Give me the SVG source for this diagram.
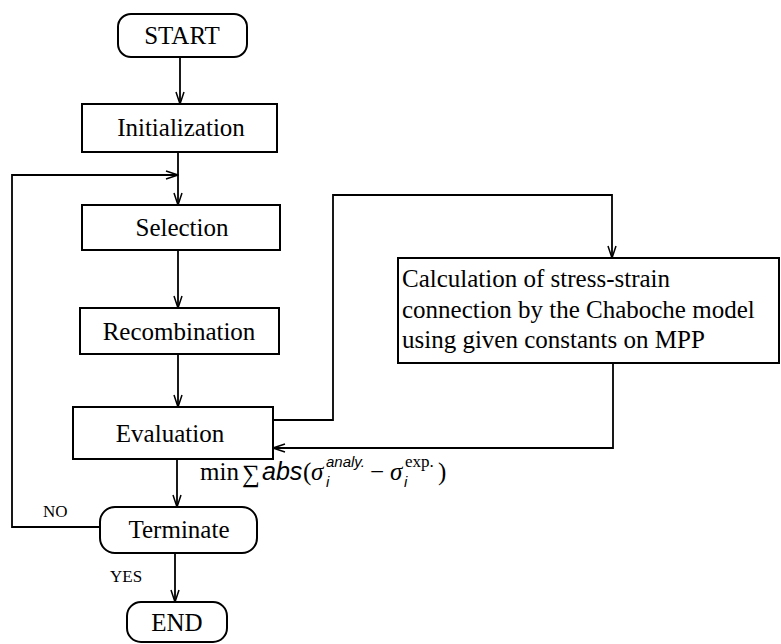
<svg xmlns="http://www.w3.org/2000/svg" width="781" height="644" viewBox="0 0 781 644">
<defs>
<marker id="arr" viewBox="0 0 14 10" refX="13" refY="5" markerWidth="14" markerHeight="10" markerUnits="userSpaceOnUse" orient="auto">
<path d="M1,1 L13,5 L1,9" fill="none" stroke="#000" stroke-width="1.5"/>
</marker>
</defs>
<style>
.box{fill:#fff;stroke:#000;stroke-width:2}
.t{font-family:"Liberation Serif","Times New Roman",serif;font-size:25px;fill:#000}
.c{text-anchor:middle}
.lbl{font-family:"Liberation Serif","Times New Roman",serif;font-size:17px;fill:#000}
.ln{fill:none;stroke:#000;stroke-width:1.8}
.si{font-family:"Liberation Sans",Arial,sans-serif;font-style:italic;fill:#000}
</style>
<rect width="781" height="644" fill="#fff"/>
<g id="connectors">
<line class="ln" x1="180" y1="57" x2="180" y2="104" marker-end="url(#arr)"/>
<line class="ln" x1="178" y1="152" x2="178" y2="205" marker-end="url(#arr)"/>
<polyline class="ln" points="100,527 12,527 12,175 178,175" marker-end="url(#arr)"/>
<line class="ln" x1="178" y1="250" x2="178" y2="308" marker-end="url(#arr)"/>
<line class="ln" x1="178" y1="354" x2="178" y2="407" marker-end="url(#arr)"/>
<polyline class="ln" points="273,420 333,420 333,195 612,195 612,258" marker-end="url(#arr)"/>
<polyline class="ln" points="613,363 613,448 273,448" marker-end="url(#arr)"/>
<line class="ln" x1="177" y1="459" x2="177" y2="507" marker-end="url(#arr)"/>
<line class="ln" x1="175" y1="553" x2="175" y2="602" marker-end="url(#arr)"/>
</g>
<g id="start"><rect class="box" x="118" y="14" width="129" height="43" rx="13"/><text class="t c" x="182" y="44">START</text></g>
<g id="init"><rect class="box" x="82" y="104" width="195" height="48"/><text class="t c" x="181" y="136">Initialization</text></g>
<g id="selection"><rect class="box" x="82" y="205" width="198" height="45"/><text class="t c" x="182" y="236">Selection</text></g>
<g id="recombination"><rect class="box" x="80" y="308" width="199" height="46"/><text class="t c" x="179" y="340">Recombination</text></g>
<g id="evaluation"><rect class="box" x="73" y="407" width="200" height="52"/><text class="t c" x="170" y="442">Evaluation</text></g>
<g id="calc"><rect class="box" x="398" y="258" width="381" height="105"/>
<text class="t" x="402" y="287">Calculation of stress-strain</text>
<text class="t" x="402" y="318">connection by the Chaboche model</text>
<text class="t" x="402" y="348">using given constants on MPP</text></g>
<g id="terminate"><rect class="box" x="100" y="507" width="157" height="46" rx="15"/><text class="t c" x="179" y="538">Terminate</text></g>
<g id="end"><rect class="box" x="127" y="602" width="100" height="40" rx="14"/><text class="t c" x="177" y="631">END</text></g>
<g id="labels">
<text class="lbl" x="43" y="517">NO</text>
<text class="lbl" x="110" y="582">YES</text>
<text class="t" x="200" y="480">min</text>
<text class="t" x="242" y="482" font-size="24">∑</text>
<text class="si" x="262" y="480" font-size="25">abs</text>
<text class="t" x="303" y="480">(</text>
<text class="t" x="311" y="480" font-style="italic">σ</text>
<text class="si" x="326" y="487" font-size="15">i</text>
<text class="si" x="326" y="467" font-size="15">analy.</text>
<text class="t" x="370" y="480">−</text>
<text class="t" x="390" y="480" font-style="italic">σ</text>
<text class="si" x="404" y="487" font-size="15">i</text>
<text class="lbl" x="405" y="467" font-size="16">exp.</text>
<text class="t" x="438" y="480">)</text>
</g>
</svg>
